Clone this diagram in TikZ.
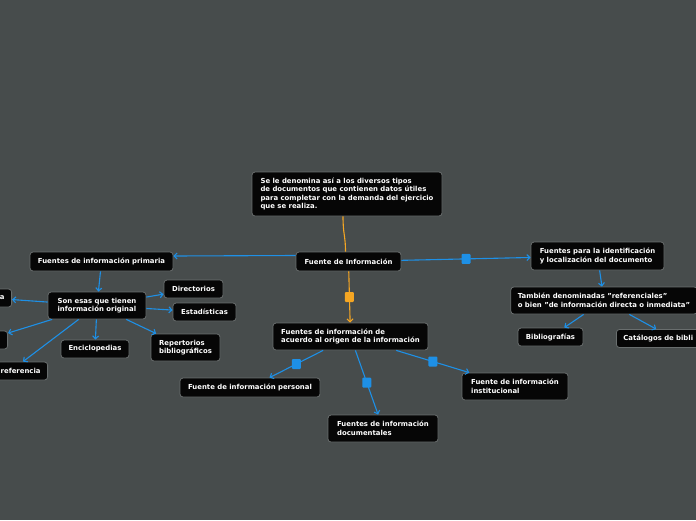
\documentclass[tikz,border=0pt]{standalone}
\usepackage{fontspec}
\setmainfont{DejaVu Sans}[Ligatures=Common]
\usetikzlibrary{arrows.meta}
\definecolor{bg}{RGB}{71,76,76}
\definecolor{blu}{RGB}{30,144,230}
\definecolor{org}{RGB}{245,166,35}
\definecolor{nfill}{RGB}{6,6,6}
\definecolor{nbord}{RGB}{105,110,110}
\newcommand{\dq}{\char34\relax}
\begin{document}
\begin{tikzpicture}[x=1pt,y=-1pt,
 box/.style={draw=nbord, fill=nfill, line width=0.8pt, rounded corners=3pt, text=white,
   font=\fontsize{6.9}{8.5}\selectfont\bfseries, align=left, inner xsep=7pt, inner ysep=3pt},
 bl/.style={draw=blu, line width=1.1pt},
 og/.style={draw=org, line width=1.1pt},
 arr/.style={-{Straight Barb[length=3pt,width=6pt]}},
 sq/.style={fill=blu, rounded corners=1pt, minimum width=9pt, minimum height=10pt, inner sep=0pt, draw=none},
 osq/.style={sq, fill=org}
]
\fill[bg] (0,0) rectangle (696,520);
\useasboundingbox (0,0) rectangle (696,520);
\clip (0,0) rectangle (696,520);

\node[box, minimum width=190pt, minimum height=44pt] (desc) at (347,194)
 {Se le denomina así a los diversos tipos\\de documentos que contienen datos útiles\\para completar con la demanda del ejercicio\\que se realiza.};
\node[box, minimum width=105pt, minimum height=19pt] (root) at (348.5,261.5) {Fuente de Información};
\node[box, minimum width=143pt, minimum height=19pt] (prim) at (101.5,261.5) {Fuentes de información primaria};
\node[box, minimum width=98pt, minimum height=27pt] (son) at (97,305.5) {Son esas que tienen\\información original};
\node[box, minimum width=59pt, minimum height=18pt] (dir) at (193.5,289) {Directorios};
\node[box, minimum width=63pt, minimum height=18pt] (est) at (204.5,312) {Estadísticas};
\node[box, minimum width=69pt, minimum height=27pt] (rep) at (185.5,347.5) {Repertorios\\bibliográficos};
\node[box, minimum width=68pt, minimum height=18pt] (enc) at (95,349) {Enciclopedias};
\node[box, anchor=east, text width=30pt, align=right, minimum height=18pt] (la) at (12,298) {a};
\node[box, anchor=east, text width=30pt, align=right, minimum height=18pt] (ls) at (8,340) {s};
\node[box, anchor=east, text width=60pt, align=right, minimum height=18pt] (lr) at (48,371) {referencia};

\node[box, minimum width=155pt, minimum height=27pt] (acu) at (350.5,336.5) {Fuentes de información de\\acuerdo al origen de la información};
\node[box, minimum width=140pt, minimum height=19pt] (per) at (250,387.5) {Fuente de información personal};
\node[box, minimum width=110pt, minimum height=27pt] (doc) at (383,428.5) {Fuentes de información\\documentales};
\node[box, minimum width=106pt, minimum height=27pt] (ins) at (515,386.5) {Fuente de información\\institucional};
\node[box, minimum width=133pt, minimum height=28pt] (ide) at (597.5,256) {Fuentes para la identificación\\y localización del documento};
\node[box, minimum width=186pt, minimum height=27pt] (tam) at (604,300.5) {También denominadas \dq referenciales\dq\\o bien \dq de información directa o inmediata\dq};
\node[box, minimum width=65pt, minimum height=18pt] (bib) at (550.5,337) {Bibliografías};
\node[box, anchor=west, text width=100pt, minimum height=18pt] (cat) at (616,338.5) {Catálogos de bibli};

% connectors
\draw[og] ([xshift=-4pt]desc.south) .. controls ([xshift=-4pt,yshift=-18pt]desc.south) and ([xshift=-3pt,yshift=16pt]root.north) .. ([xshift=-3pt]root.north);
\draw[og, arr] (root) -- node[osq]{} (acu);
\draw[bl, arr] ([yshift=6pt]root.west) -- ([yshift=5.5pt]prim.east);
\draw[bl, arr] (root) -- node[sq]{} (ide);
\draw[bl, arr] (acu) -- node[sq]{} (per);
\draw[bl, arr] (acu) -- node[sq]{} (doc);
\draw[bl, arr] (acu) -- node[sq]{} (ins);
\draw[bl, arr] (prim) -- (son);
\draw[bl, arr] (son) -- (dir);
\draw[bl, arr] (son) -- (est);
\draw[bl, arr] (son) -- (rep);
\draw[bl, arr] (son) -- (enc);
\draw[bl, arr] (son) -- (la);
\draw[bl, arr] (son) -- (ls);
\draw[bl, arr] (son) -- (lr);
\draw[bl, arr] (ide) -- (tam);
\draw[bl, arr] (tam) -- (bib);
\draw[bl, arr] (tam) -- (cat);
\end{tikzpicture}
\end{document}
